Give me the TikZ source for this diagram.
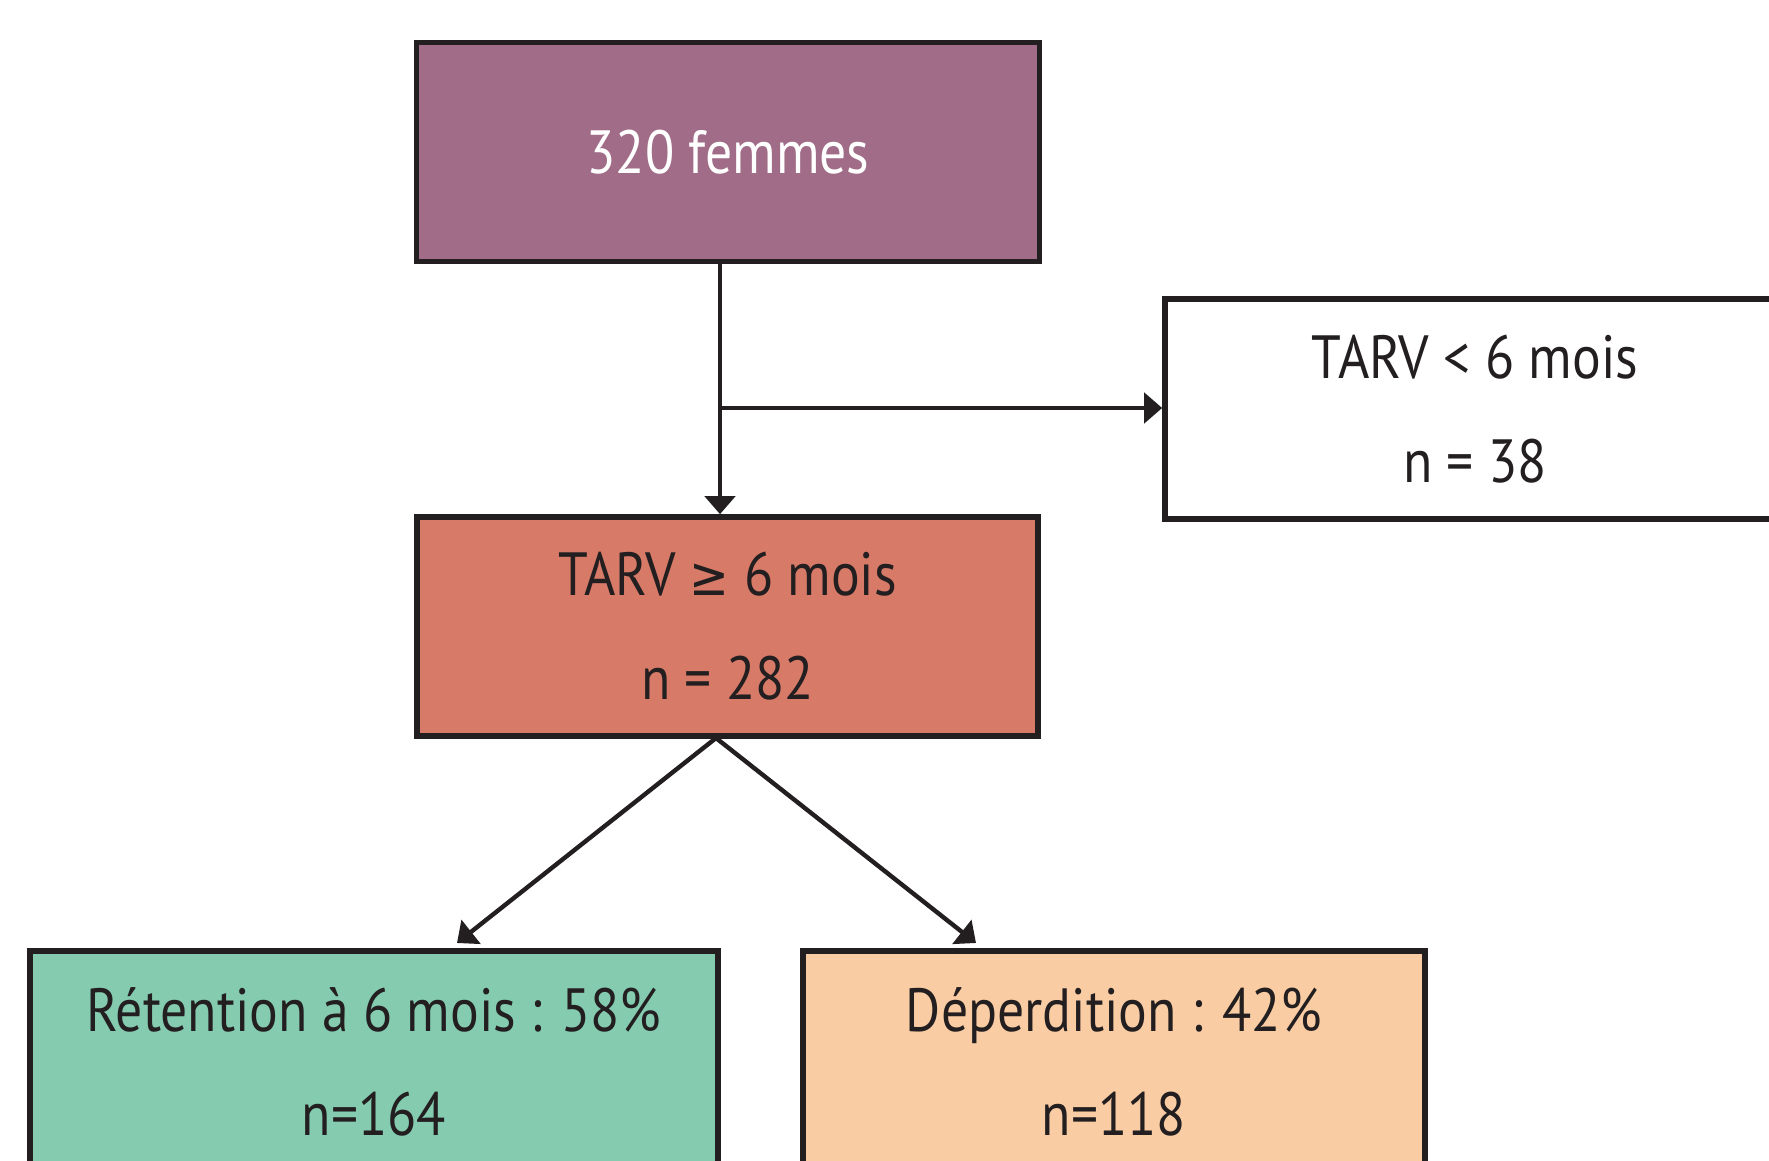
\documentclass[tikz,border=0pt]{standalone}
\usepackage{fontspec}
\setmainfont[FakeStretch=0.88]{PT Sans}
\newfontfamily\symfont[FakeStretch=0.88]{DejaVu Sans}
\usetikzlibrary{arrows.meta}
\definecolor{lineC}{HTML}{231F20}
\definecolor{purpleC}{HTML}{A06C87}
\definecolor{salmonC}{HTML}{D77A68}
\definecolor{greenC}{HTML}{84CBB0}
\definecolor{peachC}{HTML}{FACCA3}
\tikzset{
  box/.style={draw=lineC, line width=2.8pt, inner sep=0pt, align=center,
    text=lineC, font=\fontsize{30.5}{52}\selectfont},
  conn/.style={draw=lineC, line width=2.2pt,
    -{Triangle[length=9pt,width=15pt]}},
}
\begin{document}
\begin{tikzpicture}[x=0.5pt,y=-0.5pt]
\useasboundingbox (0,0) rectangle (1769,1161);
\begin{scope}
\clip (0,0) rectangle (1769,1161);
\node[box, fill=purpleC, text=white, minimum width=311.5pt, minimum height=109.5pt]
  (top) at (728,152) {320 femmes};
\node[box, fill=white, minimum width=310pt, minimum height=110pt]
  (right) at (1475,409) {TARV < 6 mois\\n = 38};
\node[box, fill=salmonC, minimum width=310.5pt, minimum height=109.5pt]
  (mid) at (727.5,626.5) {TARV {\symfont\fontsize{27}{52}\selectfont ≥} 6 mois\\n = 282};
\node[box, fill=greenC, minimum width=344pt, minimum height=111pt]
  (ret) at (374,1062) {Rétention à 6 mois : 58\%\\n=164};
\node[box, fill=peachC, minimum width=311pt, minimum height=111pt]
  (dep) at (1114,1062) {Déperdition : 42\%\\n=118};
\end{scope}
\coordinate (split) at (720,408);
\coordinate (fork) at (716,738);
\coordinate (lt) at (457,943);
\coordinate (rt) at (976,943);
\draw[conn] (top.south -| split) -- (mid.north -| split);
\draw[conn] (split) -- (right.west |- split);
\draw[conn] (fork) -- (lt);
\draw[conn] (fork) -- (rt);
\end{tikzpicture}
\end{document}
